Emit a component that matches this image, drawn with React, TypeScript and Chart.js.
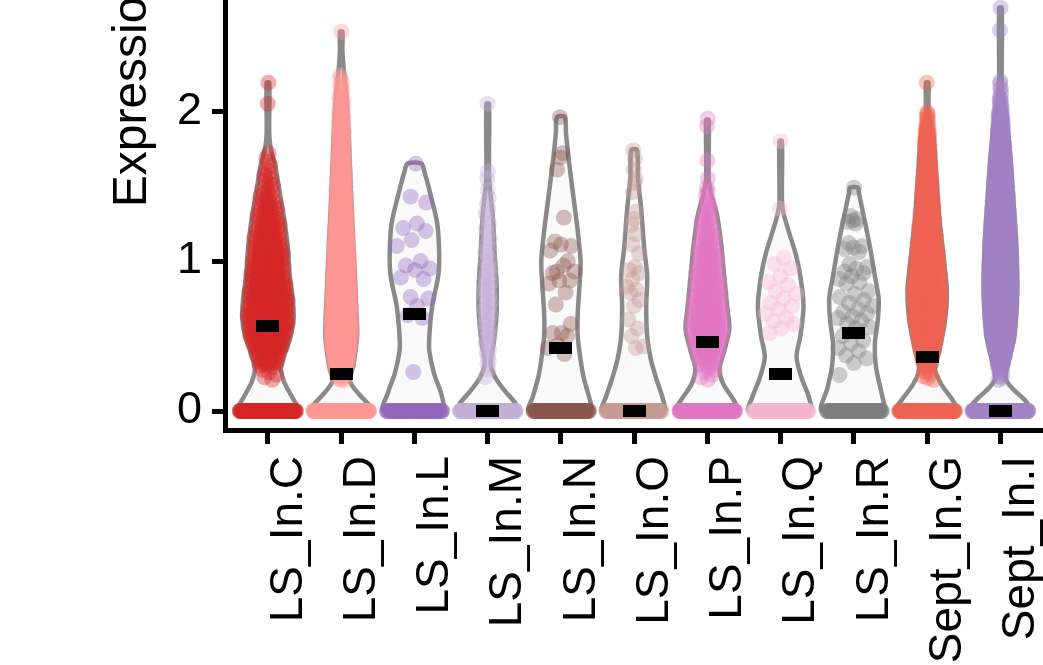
import React, { useEffect, useRef } from 'react';
import { Chart, registerables } from 'chart.js';
Chart.register(...registerables);

// ---------- data ----------
const categories = ['LS_In.C', 'LS_In.D', 'LS_In.L', 'LS_In.M', 'LS_In.N', 'LS_In.O', 'LS_In.P', 'LS_In.Q', 'LS_In.R', 'Sept_In.G', 'Sept_In.I'];
const colors = ['#D62728', '#FF9896', '#9467BD', '#C5B0D5', '#8C564B', '#C49C94', '#E377C2', '#F7B6D2', '#7F7F7F', '#EF6455', '#A483C4'];
const yTicks = [0, 1, 2];
const medians = [0.57, 0.25, 0.65, 0, 0.42, 0, 0.46, 0.25, 0.52, 0.36, 0];
// number of cells with expression exactly 0
const zeroCounts = [150, 150, 80, 150, 90, 80, 150, 80, 80, 150, 150];

// violin outlines: [expression, relative density width 0..1]
const violinC = [[0, 0.97], [0.05, 0.88], [0.12, 0.69], [0.2, 0.5], [0.28, 0.41], [0.38, 0.53], [0.5, 0.72], [0.62, 0.81], [0.75, 0.78], [0.9, 0.69], [1.1, 0.62], [1.3, 0.5], [1.5, 0.34], [1.65, 0.22], [1.75, 0.09], [1.85, 0.04], [2.19, 0.04]];
const violinD = [[0, 1], [0.05, 0.84], [0.12, 0.53], [0.2, 0.28], [0.3, 0.38], [0.5, 0.5], [0.7, 0.47], [1.0, 0.41], [1.3, 0.34], [1.6, 0.28], [1.9, 0.22], [2.1, 0.16], [2.25, 0.09], [2.4, 0.04], [2.53, 0.04]];
const violinL = [[0, 0.97], [0.12, 0.84], [0.25, 0.62], [0.4, 0.47], [0.5, 0.47], [0.7, 0.56], [0.9, 0.75], [1.05, 0.78], [1.25, 0.72], [1.45, 0.5], [1.6, 0.31], [1.65, 0.22]];
const violinM = [[0, 0.97], [0.05, 0.88], [0.13, 0.56], [0.22, 0.25], [0.32, 0.09], [0.45, 0.19], [0.65, 0.28], [0.85, 0.28], [1.05, 0.22], [1.3, 0.16], [1.5, 0.06], [1.6, 0.04], [2.05, 0.04]];
const violinN = [[0, 1], [0.1, 0.88], [0.22, 0.72], [0.34, 0.62], [0.5, 0.53], [0.65, 0.53], [0.85, 0.59], [1.0, 0.62], [1.2, 0.53], [1.45, 0.38], [1.67, 0.25], [1.85, 0.16], [1.96, 0.12]];
const violinO = [[0, 1], [0.1, 0.88], [0.22, 0.69], [0.34, 0.53], [0.5, 0.41], [0.7, 0.38], [0.9, 0.41], [1.1, 0.31], [1.35, 0.22], [1.55, 0.12], [1.74, 0.09]];
const violinP = [[0, 1], [0.08, 0.81], [0.18, 0.5], [0.28, 0.38], [0.4, 0.53], [0.55, 0.69], [0.7, 0.62], [0.9, 0.53], [1.1, 0.44], [1.3, 0.31], [1.45, 0.12], [1.55, 0.04], [1.94, 0.04]];
const violinQ = [[0, 1], [0.1, 0.88], [0.22, 0.66], [0.36, 0.5], [0.5, 0.62], [0.7, 0.72], [0.9, 0.62], [1.05, 0.47], [1.2, 0.25], [1.32, 0.09], [1.4, 0.04], [1.8, 0.04]];
const violinR = [[0, 1], [0.15, 0.84], [0.3, 0.69], [0.45, 0.66], [0.6, 0.75], [0.75, 0.78], [0.9, 0.66], [1.1, 0.5], [1.3, 0.31], [1.45, 0.16], [1.49, 0.12]];
const violinG = [[0, 1], [0.08, 0.78], [0.18, 0.44], [0.28, 0.25], [0.4, 0.38], [0.6, 0.56], [0.8, 0.62], [1.0, 0.53], [1.3, 0.38], [1.6, 0.28], [1.85, 0.19], [1.95, 0.06], [2.05, 0.04], [2.19, 0.04]];
const violinI = [[0, 1], [0.07, 0.78], [0.15, 0.38], [0.22, 0.16], [0.32, 0.25], [0.5, 0.44], [0.8, 0.53], [1.1, 0.5], [1.4, 0.41], [1.7, 0.31], [1.95, 0.19], [2.1, 0.06], [2.2, 0.04], [2.69, 0.04]];
const violins = [violinC, violinD, violinL, violinM, violinN, violinO, violinP, violinQ, violinR, violinG, violinI];

// non-zero cells: counts per 0.1-wide expression bin (from 0) for dense groups
const binsC = [0, 0, 6, 28, 50, 62, 62, 55, 48, 42, 36, 28, 22, 18, 11, 7, 4];
const binsD = [0, 0, 15, 50, 80, 90, 90, 85, 85, 80, 75, 70, 60, 55, 50, 40, 35, 30, 25, 18, 12, 6];
const binsM = [0, 0, 2, 4, 5, 6, 6, 6, 6, 5, 4, 3, 3, 3, 2, 1];
const binsP = [0, 0, 6, 18, 32, 36, 32, 28, 25, 22, 18, 14, 11, 7, 4];
const binsG = [0, 0, 8, 35, 55, 65, 70, 70, 65, 60, 55, 50, 45, 40, 35, 30, 25, 20, 15, 8];
const binsI = [0, 0, 8, 30, 60, 90, 100, 110, 110, 110, 100, 100, 90, 90, 80, 70, 60, 50, 40, 25, 10, 3];
const bins = [binsC, binsD, [], binsM, [], [], binsP, [], [], binsG, binsI];

// non-zero cells: individual values
const valsC = [1.72, 2.05, 2.19];
const valsD = [2.22, 2.24, 2.53];
const valsL = [1.65, 1.43, 1.39, 1.25, 1.22, 1.2, 1.14, 1.1, 1.0, 0.97, 0.95, 0.94, 0.89, 0.88, 0.76, 0.75, 0.7, 0.64, 0.62, 0.26];
const valsM = [1.6, 2.05];
const valsN = [1.96, 1.72, 1.69, 1.61, 1.29, 1.13, 1.1, 1.11, 1.07, 1.0, 0.93, 0.93, 0.97, 0.92, 0.87, 0.87, 0.85, 0.79, 0.71, 0.58, 0.52, 0.52, 0.5, 0.44, 0.42, 0.38];
const valsO = [1.74, 1.68, 1.61, 1.55, 1.52, 1.46, 1.33, 1.28, 1.24, 1.18, 1.11, 1.05, 0.96, 0.94, 0.92, 0.88, 0.83, 0.81, 0.79, 0.74, 0.7, 0.61, 0.55, 0.5, 0.43, 0.42];
const valsP = [1.55, 1.67, 1.9, 1.95];
const valsQ = [1.8, 1.35, 1.02, 0.98, 0.95, 0.9, 0.86, 0.84, 0.8, 0.78, 0.75, 0.72, 0.7, 0.68, 0.65, 0.62, 0.6, 0.58, 0.55, 0.52];
const valsR = [1.49, 1.3, 1.28, 1.27, 1.26, 1.25, 1.12, 1.1, 1.09, 1.08, 1.06, 0.98, 0.96, 0.95, 0.93, 0.92, 0.9, 0.88, 0.86, 0.85, 0.8, 0.78, 0.76, 0.74, 0.72, 0.7, 0.68, 0.66, 0.65, 0.63, 0.62, 0.6, 0.58, 0.56, 0.55, 0.5, 0.47, 0.45, 0.42, 0.4, 0.37, 0.35, 0.32, 0.24];
const valsG = [2.19];
const valsI = [2.15, 2.2, 2.54, 2.69];
const vals = [valsC, valsD, valsL, valsM, valsN, valsO, valsP, valsQ, valsR, valsG, valsI];

// ---------- helpers ----------
const VIOLIN_HALF = 0.433; // half of violin width in category units
const UNIT_PX = 73.94; // approx pixels per category (used only for jitter inset)
const JITTER_ZERO = 0.385;

function rgba(hex: string, a: number) {
  const n = parseInt(hex.slice(1), 16);
  return `rgba(${(n >> 16) & 255},${(n >> 8) & 255},${n & 255},${a})`;
}
function halfWidth(prof: number[][], v: number) {
  if (v <= prof[0][0]) return prof[0][1];
  for (let i = 1; i < prof.length; i++) {
    if (v <= prof[i][0]) {
      const [a0, b0] = prof[i - 1];
      const [a1, b1] = prof[i];
      return b0 + ((b1 - b0) * (v - a0)) / (a1 - a0);
    }
  }
  return prof[prof.length - 1][1];
}
const jit = (k: number, phase: number) => (((k * 0.6180339887 + phase) % 1) * 2 - 1);
function spread(prof: number[][], y: number) {
  const hw = halfWidth(prof, y) * VIOLIN_HALF;
  const inset = 5 / UNIT_PX;
  return Math.max(hw - inset, hw * 0.4);
}

function buildViolin(i: number) {
  const c = i + 1;
  const prof = violins[i];
  const right = prof.map(([v, d]) => ({ x: c + d * VIOLIN_HALF, y: v }));
  const left = prof.slice().reverse().map(([v, d]) => ({ x: c - d * VIOLIN_HALF, y: v }));
  return [...right, ...left, right[0]];
}
function buildPoints(i: number) {
  const c = i + 1;
  const phase = (i * 0.137) % 1;
  const pts: { x: number; y: number }[] = [];
  let k = 0;
  for (let z = 0; z < zeroCounts[i]; z++) pts.push({ x: c + jit(k++, phase) * JITTER_ZERO, y: 0 });
  const prof = violins[i];
  bins[i].forEach((n, b) => {
    for (let j = 0; j < n; j++) {
      const y = b * 0.1 + (0.1 * (j + 0.5)) / n;
      pts.push({ x: c + jit(k++, phase) * spread(prof, y), y });
    }
  });
  vals[i].forEach((y) => {
    pts.push({ x: c + jit(k++, phase) * spread(prof, y), y });
  });
  return pts;
}

function makeBar() {
  const cv = document.createElement('canvas');
  cv.width = 23;
  cv.height = 12;
  const g = cv.getContext('2d')!;
  g.fillStyle = '#000';
  g.fillRect(0, 0, 23, 12);
  return cv;
}

const FONT = 'Liberation Sans, Arial, sans-serif';

export default function App() {
  const ref = useRef<HTMLCanvasElement>(null);
  useEffect(() => {
    const datasets: any[] = [];
    datasets.push({
      type: 'scatter',
      data: medians.map((m, i) => ({ x: i + 1, y: m })),
      pointStyle: makeBar(),
      pointRadius: 6,
      order: 0,
    });
    categories.forEach((_, i) => {
      datasets.push({
        type: 'scatter',
        data: buildPoints(i),
        pointRadius: 8,
        pointBorderWidth: 0,
        pointBackgroundColor: rgba(colors[i], 0.38),
        order: 1,
      });
    });
    categories.forEach((_, i) => {
      datasets.push({
        type: 'line',
        data: buildViolin(i),
        borderColor: '#8a8a8a',
        borderWidth: 4.5,
        backgroundColor: '#fafafa',
        fill: 'shape',
        tension: 0.3,
        pointRadius: 0,
        order: 2,
      });
    });
    const chart = new Chart(ref.current!, {
      type: 'scatter',
      data: { datasets },
      options: {
        animation: false,
        responsive: false,
        devicePixelRatio: 1,
        events: [],
        layout: { padding: { top: 40, left: 0, right: 0, bottom: 0 } },
        plugins: { legend: { display: false }, tooltip: { enabled: false } },
        scales: {
          x: {
            type: 'linear',
            min: 0.414,
            max: 12.25,
            afterFit: (s: any) => { s.height = 235; },
            afterBuildTicks: (s: any) => { s.ticks = categories.map((_, i) => ({ value: i + 1 })); },
            grid: { drawOnChartArea: false, drawTicks: true, tickLength: 14, tickWidth: 5, tickColor: '#000' },
            border: { display: true, width: 5, color: '#000' },
            ticks: {
              autoSkip: false,
              minRotation: 90,
              maxRotation: 90,
              padding: 12,
              labelOffset: 21,
              color: '#000',
              font: { family: FONT, size: 46 },
              callback: (v: any) => categories[Math.round(v) - 1] ?? '',
            },
          },
          y: {
            type: 'linear',
            min: -0.1267,
            max: 5.283,
            afterFit: (s: any) => { s.width = 225; },
            afterBuildTicks: (s: any) => { s.ticks = yTicks.map((v) => ({ value: v })); },
            grid: { drawOnChartArea: false, drawTicks: true, tickLength: 13, tickWidth: 5, tickColor: '#000' },
            border: { display: true, width: 5, color: '#000' },
            ticks: {
              padding: 10,
              color: '#000',
              font: { family: FONT, size: 45 },
              callback: (v: any) => String(v),
            },
            title: {
              display: true,
              text: 'Expression Level',
              color: '#000',
              padding: { top: 104, bottom: 0 },
              font: { family: FONT, size: 48 },
            },
          },
        },
      } as any,
    });
    return () => chart.destroy();
  }, []);
  return (
    <canvas
      ref={ref}
      width={1100}
      height={1086}
      style={{ position: 'fixed', left: 0, top: -421, width: 1100, height: 1086, background: '#fff' }}
    />
  );
}
